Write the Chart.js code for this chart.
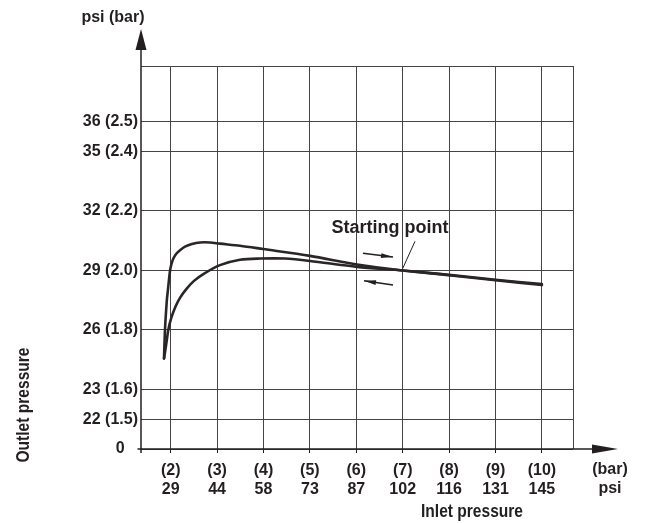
<!DOCTYPE html>
<html>
<head>
<meta charset="utf-8">
<title>Outlet pressure vs inlet pressure</title>
<script src="https://cdn.jsdelivr.net/npm/chart.js@4/dist/chart.umd.min.js"></script>
<style>
    body { margin: 0; background: #ffffff; }
    #chart { display: block; }
</style>
</head>
<body>
<canvas id="chart" width="645" height="523"></canvas>
<script>
// Axis ticks (bar values) and their labels
const xTickValues = [2, 3, 4, 5, 6, 7, 8, 9, 10];
const xBarLabels = ['(2)', '(3)', '(4)', '(5)', '(6)', '(7)', '(8)', '(9)', '(10)'];
const xPsiLabels = ['29', '44', '58', '73', '87', '102', '116', '131', '145'];

const yTickValues = [1.4, 1.5, 1.6, 1.8, 2.0, 2.2, 2.4, 2.5];
const yPsiLabels = ['0', '22', '23', '26', '29', '32', '35', '36'];
const yBarLabels = ['', '(1.5)', '(1.6)', '(1.8)', '(2.0)', '(2.2)', '(2.4)', '(2.5)'];

// Upper branch of the loop (inlet pressure in bar, outlet pressure in bar)
const upperX = [1.856, 1.862, 1.869, 1.877, 1.890, 1.905, 1.920, 1.942, 1.985, 2.017, 2.06, 2.125, 2.2, 2.308, 2.459, 2.631, 2.847, 3.062, 3.494, 3.989, 5.002, 6.015, 7.0, 8.0, 9.0, 10.0];
const upperY = [1.704, 1.736, 1.768, 1.80, 1.838, 1.873, 1.905, 1.937, 1.998, 2.022, 2.041, 2.057, 2.068, 2.080, 2.089, 2.094, 2.094, 2.090, 2.083, 2.072, 2.049, 2.020, 2.0, 1.984, 1.967, 1.951];

// Lower branch of the loop
const lowerX = [1.856, 1.888, 1.918, 1.948, 2.006, 2.093, 2.2, 2.345, 2.502, 2.703, 3.062, 3.494, 3.925, 4.463, 5.002, 6.015, 7.0, 8.0, 9.0, 10.0];
const lowerY = [1.704, 1.736, 1.768, 1.80, 1.837, 1.875, 1.908, 1.939, 1.965, 1.988, 2.018, 2.036, 2.040, 2.040, 2.032, 2.012, 2.0, 1.985, 1.969, 1.954];

// Starting point and the little direction arrows
const startPoint = [7.0, 2.0];
const startLabel = 'Starting point';
const directionArrows = [
    { from: [6.144, 2.058], to: [6.791, 2.045] },
    { from: [6.791, 1.951], to: [6.166, 1.965] }
];

const INK = '#231f20';
const FONT = '"Liberation Sans", Arial, Helvetica, sans-serif';

const X_MIN = 1.36, X_MAX = 10.67;
const Y_MIN = 1.4, Y_MAX = 2.687;

function toPoints(xs, ys) {
    return xs.map((x, i) => ({ x: x, y: ys[i] }));
}

function arrowHead(ctx, x1, y1, x2, y2, len, half) {
    const a = Math.atan2(y2 - y1, x2 - x1);
    ctx.beginPath();
    ctx.moveTo(x2, y2);
    ctx.lineTo(x2 - len * Math.cos(a) + half * Math.sin(a), y2 - len * Math.sin(a) - half * Math.cos(a));
    ctx.lineTo(x2 - len * Math.cos(a) - half * Math.sin(a), y2 - len * Math.sin(a) + half * Math.cos(a));
    ctx.closePath();
    ctx.fill();
}

// no condensed face installed, so squeeze the bold one horizontally
function narrowText(ctx, text, x, y, width) {
    const w = ctx.measureText(text).width;
    ctx.save();
    ctx.translate(x, y);
    ctx.scale(width / w, 1);
    ctx.fillText(text, 0, 0);
    ctx.restore();
}

// Axis arrows, titles and the annotations
const decorations = {
    id: 'decorations',
    afterDraw(chart) {
        const ctx = chart.ctx;
        const area = chart.chartArea;
        const xs = chart.scales.x;
        const ys = chart.scales.y;
        ctx.save();
        ctx.strokeStyle = INK;
        ctx.fillStyle = INK;

        // y axis with arrow
        ctx.lineWidth = 1.5;
        ctx.beginPath();
        ctx.moveTo(area.left, area.bottom + 4);
        ctx.lineTo(area.left, 45);
        ctx.stroke();
        arrowHead(ctx, area.left, 60, area.left, 29, 21, 5.5);

        // x axis with arrow
        ctx.beginPath();
        ctx.moveTo(area.left - 3.5, area.bottom);
        ctx.lineTo(600, area.bottom);
        ctx.stroke();
        arrowHead(ctx, 580, area.bottom, 618, area.bottom, 26, 4.5);

        // unit labels
        ctx.font = 'bold 16px ' + FONT;
        ctx.textAlign = 'center';
        ctx.textBaseline = 'middle';
        ctx.fillText('psi (bar)', 113, 18);
        ctx.fillText('(bar)', 610, 470);
        ctx.fillText('psi', 610, 489);

        // axis titles
        ctx.font = 'bold 18px ' + FONT;
        narrowText(ctx, 'Inlet pressure', 472, 512, 102);
        ctx.save();
        ctx.translate(24, 405);
        ctx.rotate(-Math.PI / 2);
        narrowText(ctx, 'Outlet pressure', 0, 0, 115);
        ctx.restore();

        // starting point label and leader line
        ctx.fillText(startLabel, xs.getPixelForValue(6.726), ys.getPixelForValue(2.141));
        ctx.lineWidth = 1;
        ctx.beginPath();
        ctx.moveTo(xs.getPixelForValue(7.265), ys.getPixelForValue(2.098));
        ctx.lineTo(xs.getPixelForValue(startPoint[0]), ys.getPixelForValue(startPoint[1]) - 2);
        ctx.stroke();

        // direction arrows
        ctx.lineWidth = 1.5;
        directionArrows.forEach(arrow => {
            const x1 = xs.getPixelForValue(arrow.from[0]);
            const y1 = ys.getPixelForValue(arrow.from[1]);
            const x2 = xs.getPixelForValue(arrow.to[0]);
            const y2 = ys.getPixelForValue(arrow.to[1]);
            ctx.beginPath();
            ctx.moveTo(x1, y1);
            ctx.lineTo(x2, y2);
            ctx.stroke();
            arrowHead(ctx, x1, y1, x2, y2, 12, 2.4);
        });

        ctx.restore();
    }
};

const lineStyle = {
    showLine: true,
    borderColor: '#2a2627',
    borderWidth: 2.6,
    pointRadius: 0,
    tension: 0.3,
    borderCapStyle: 'round',
    borderJoinStyle: 'round'
};

new Chart(document.getElementById('chart'), {
    type: 'scatter',
    data: {
        datasets: [
            Object.assign({ label: 'Rising', data: toPoints(upperX, upperY) }, lineStyle),
            Object.assign({ label: 'Falling', data: toPoints(lowerX, lowerY) }, lineStyle)
        ]
    },
    options: {
        responsive: false,
        animation: false,
        devicePixelRatio: 1,
        layout: { padding: { left: 0, top: 66, right: 72, bottom: 0 } },
        plugins: {
            legend: { display: false },
            tooltip: { enabled: false }
        },
        scales: {
            x: {
                type: 'linear',
                min: X_MIN,
                max: X_MAX,
                afterFit: (scale) => { scale.height = 74; },
                afterBuildTicks: (scale) => {
                    scale.ticks = xTickValues.concat([X_MAX]).map(v => ({ value: v }));
                },
                border: { display: false },
                grid: {
                    color: '#444',
                    lineWidth: 1,
                    tickLength: 4,
                    tickColor: (c) => (c.tick && c.tick.value === X_MAX) ? 'rgba(0,0,0,0)' : INK
                },
                ticks: {
                    autoSkip: false,
                    maxRotation: 0,
                    padding: 8,
                    color: INK,
                    font: { family: FONT, size: 16, weight: 'bold', lineHeight: 1.2 },
                    callback: (value) => {
                        const i = xTickValues.indexOf(value);
                        return i < 0 ? '' : [xBarLabels[i], xPsiLabels[i]];
                    }
                }
            },
            y: {
                type: 'linear',
                min: Y_MIN,
                max: Y_MAX,
                afterFit: (scale) => { scale.width = 141; },
                afterBuildTicks: (scale) => {
                    scale.ticks = yTickValues.concat([Y_MAX]).map(v => ({ value: v }));
                },
                border: { display: false },
                grid: { color: '#444', lineWidth: 1, drawTicks: false },
                ticks: {
                    autoSkip: false,
                    padding: 3,
                    color: INK,
                    font: { family: FONT, size: 16, weight: 'bold' },
                    callback: (value) => {
                        const i = yTickValues.indexOf(value);
                        if (i < 0) return '';
                        // the zero sits a little further left than the others
                        return yBarLabels[i] ? yPsiLabels[i] + ' ' + yBarLabels[i] : yPsiLabels[i] + '   ';
                    }
                }
            }
        }
    },
    plugins: [decorations]
});
</script>
</body>
</html>
